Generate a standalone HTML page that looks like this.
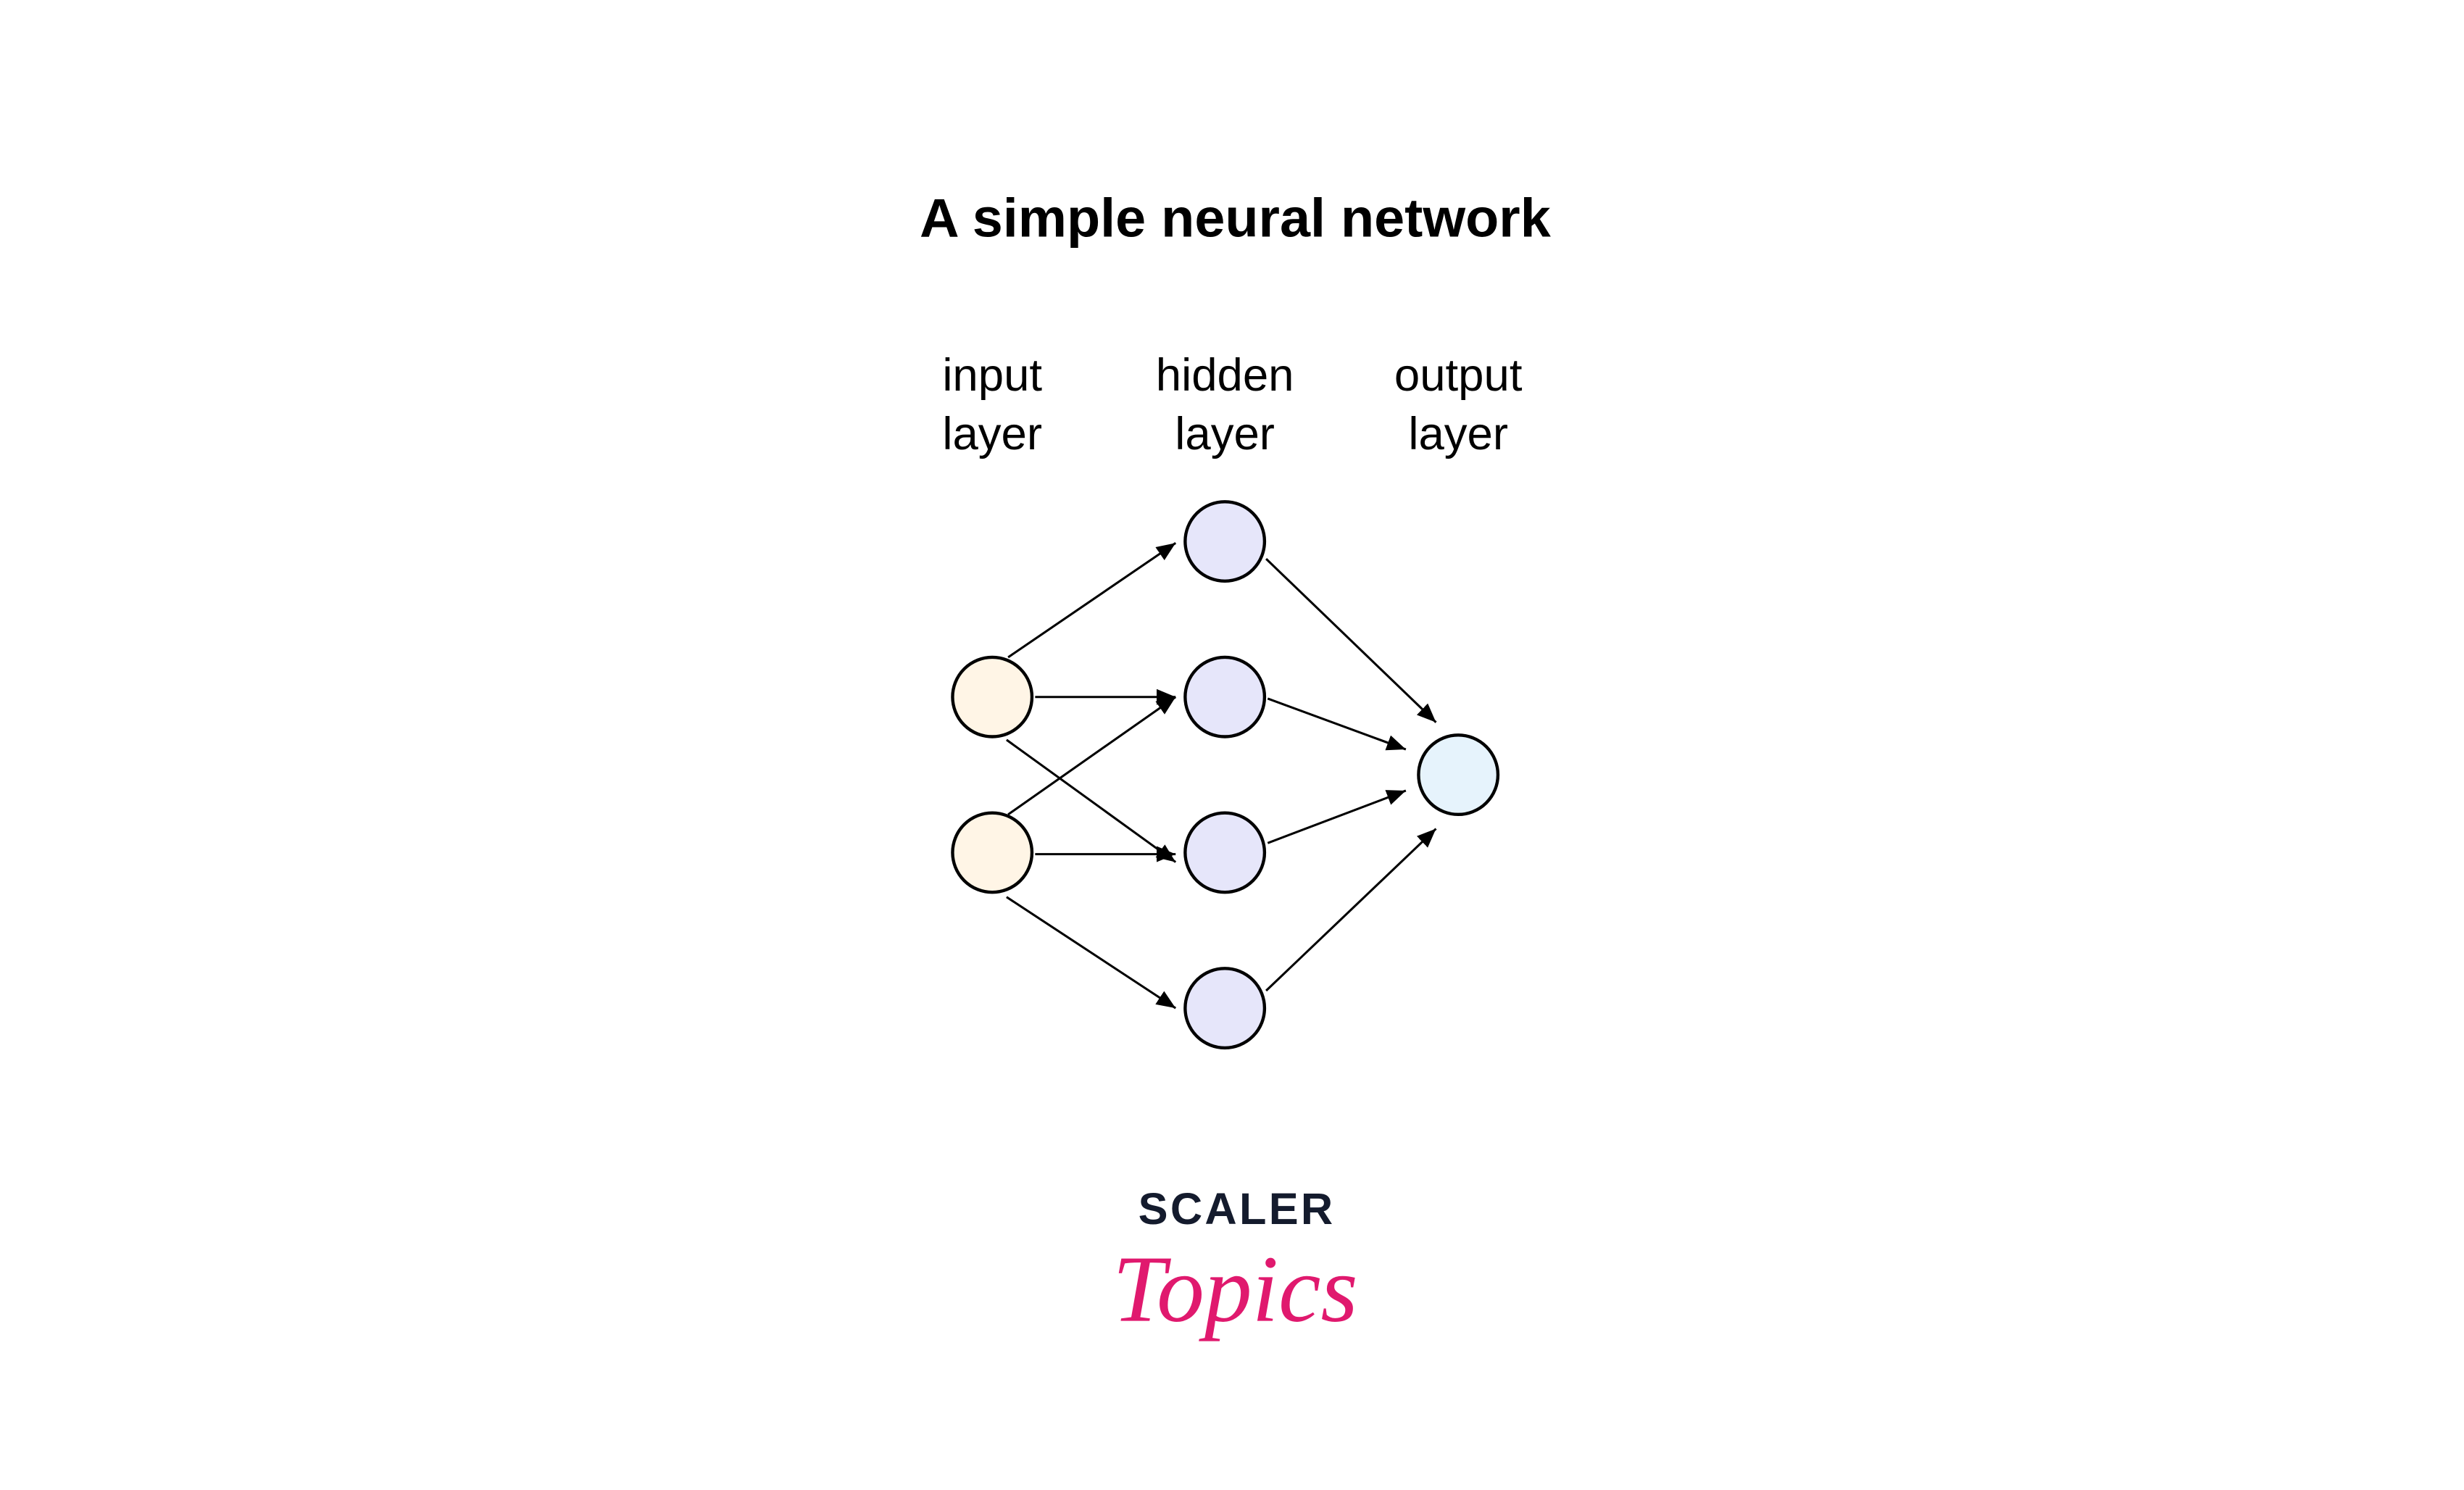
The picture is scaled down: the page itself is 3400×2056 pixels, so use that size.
<!DOCTYPE html>
<html><head><meta charset="utf-8"><style>
html,body{margin:0;padding:0;background:#fff;}
svg{display:block;}
</style></head><body>
<svg width="3400" height="2056" viewBox="0 0 1552 938.5" preserveAspectRatio="none" xmlns="http://www.w3.org/2000/svg">
<defs>
<marker id="a" viewBox="0 0 12 10" refX="12" refY="5" markerWidth="12" markerHeight="10" markerUnits="userSpaceOnUse" orient="auto">
<path d="M0,0 L12,5 L0,10 z" fill="#000"/>
</marker>
</defs>
<rect width="1552" height="938.5" fill="#fff"/>
<text x="778" y="149" text-anchor="middle" font-family="Liberation Sans, sans-serif" font-weight="bold" font-size="34.5" fill="#000">A simple neural network</text>
<g font-family="Liberation Sans, sans-serif" font-size="29" fill="#000" text-anchor="middle">
<text x="625" y="246">input</text><text x="625" y="283">layer</text>
<text x="771.5" y="246">hidden</text><text x="771.5" y="283">layer</text>
<text x="918.5" y="246">output</text><text x="918.5" y="283">layer</text>
</g>
<g stroke="#000" stroke-width="1.4" fill="none" marker-end="url(#a)">
<line x1="635" y1="414" x2="740.5" y2="342"/>
<line x1="652" y1="439" x2="740.5" y2="439"/>
<line x1="634" y1="466" x2="740.5" y2="543"/>
<line x1="635" y1="513" x2="740.5" y2="439"/>
<line x1="652" y1="538" x2="740.5" y2="538"/>
<line x1="634" y1="565" x2="740.5" y2="635"/>
<line x1="797.5" y1="352" x2="904.5" y2="455"/>
<line x1="798.5" y1="440" x2="885.5" y2="472"/>
<line x1="798.5" y1="531" x2="885.5" y2="498"/>
<line x1="797.5" y1="624" x2="904.5" y2="522"/>
</g>
<g stroke="#000" stroke-width="2">
<circle cx="625" cy="439" r="25" fill="#fff5e6"/>
<circle cx="625" cy="537" r="25" fill="#fff5e6"/>
<circle cx="771.5" cy="341" r="25" fill="#e6e6fa"/>
<circle cx="771.5" cy="439" r="25" fill="#e6e6fa"/>
<circle cx="771.5" cy="537" r="25" fill="#e6e6fa"/>
<circle cx="771.5" cy="635" r="25" fill="#e6e6fa"/>
<circle cx="918.5" cy="488" r="25" fill="#e6f3fc"/>
</g>
<text x="779" y="771" text-anchor="middle" font-family="Liberation Sans, sans-serif" font-weight="bold" font-size="28" letter-spacing="1.5" fill="#141b2d">SCALER</text>
<text x="778" y="832" text-anchor="middle" font-family="Liberation Serif, serif" font-style="italic" font-size="60" fill="#e0196e">Topics</text>
</svg>
</body></html>
